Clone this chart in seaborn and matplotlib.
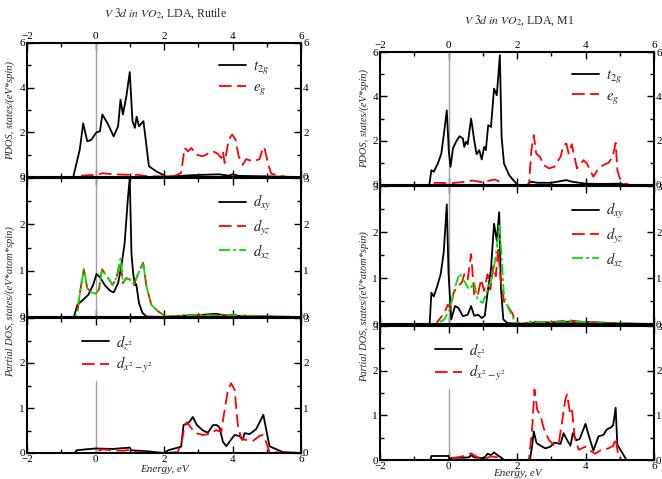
import matplotlib
matplotlib.use("Agg")
import matplotlib.pyplot as plt
from matplotlib.ticker import MultipleLocator
import seaborn as sns

# ==========================
# Data: Rutile (left column)
# ==========================

rut_t2g_e = [-2, -0.65, -0.46, -0.36, -0.24, -0.12, -0.02, 0.03, 0.13, 0.2, 0.37, 0.53, 0.66, 0.73, 0.8, 0.9, 1.0,
             1.08, 1.15, 1.2, 1.27, 1.4, 1.56, 1.78, 1.97, 2.05, 2.5, 2.8, 3.2, 3.6, 3.9, 4.0, 4.2, 4.6, 5.0, 5.5, 6]
rut_t2g = [0, 0, 1.22, 2.4, 1.6, 1.67, 1.9, 2.0, 2.05, 2.8, 2.35, 1.82, 2.27, 3.46, 2.8, 3.6, 4.7,
           2.5, 2.2, 2.7, 2.27, 2.5, 0.48, 0.25, 0.1, 0.02, 0.05, 0.08, 0.1, 0.12, 0.06, 0.12, 0.05, 0.04, 0.03, 0.01, 0]

rut_eg_e = [-2, -0.6, -0.4, 0.0, 0.1, 0.2, 0.5, 0.9, 1.2, 1.5, 1.9, 2.3, 2.5, 2.6, 2.7, 2.8, 2.94, 3.13, 3.28, 3.43,
            3.57, 3.67, 3.72, 3.77, 3.89, 3.99, 4.09, 4.18, 4.3, 4.4, 4.6, 4.79, 4.88, 4.93, 5.03, 5.13, 5.37, 5.6, 6]
rut_eg = [0, 0, 0.06, 0.1, 0.12, 0.17, 0.12, 0.1, 0.1, 0.04, 0.03, 0.05, 0.18, 1.3, 1.15, 1.3, 1.0, 0.93, 1.04, 1.15,
          1.04, 0.85, 1.15, 0.63, 1.67, 1.9, 1.67, 0.93, 0.55, 0.8, 0.7, 0.8, 1.25, 1.34, 0.63, 0.15, 0.06, 0.0, 0]

rut_dxy_e = [-2, -0.63, -0.53, -0.41, -0.21, -0.07, 0.03, 0.13, 0.27, 0.42, 0.53, 0.66, 0.76, 0.85, 0.95, 1.0,
             1.05, 1.1, 1.15, 1.19, 1.27, 1.37, 1.49, 2.0, 2.6, 3.0, 3.52, 3.8, 4.5, 5.0, 6]
rut_dxy = [0, 0, 0.26, 0.34, 0.48, 0.69, 0.93, 0.86, 0.69, 0.57, 0.53, 0.73, 1.12, 1.59, 2.6, 3.0,
           1.37, 0.94, 0.69, 0.71, 0.3, 0.09, 0.01, 0, 0.03, 0.04, 0.07, 0.03, 0.02, 0.01, 0]

rut_dyz_e = [-2, -0.6, -0.53, -0.44, -0.34, -0.24, -0.12, 0.0, 0.1, 0.19, 0.34, 0.5, 0.61, 0.73, 0.8, 0.9, 1.02,
             1.12, 1.21, 1.39, 1.49, 1.63, 1.83, 1.97, 2.1, 2.6, 3.0, 3.5, 4.0, 4.5, 5.0, 6]
rut_dyz = [0, 0, 0.12, 0.59, 1.03, 0.62, 0.53, 0.5, 0.59, 1.03, 0.87, 0.69, 0.84, 1.2, 0.73, 0.84, 0.8,
           0.69, 0.87, 1.17, 0.66, 0.26, 0.12, 0.05, 0.01, 0.03, 0.05, 0.03, 0.05, 0.02, 0.01, 0]
rut_dxz = [0, 0, 0.12, 0.6, 1.04, 0.62, 0.53, 0.5, 0.6, 1.02, 0.87, 0.7, 0.84, 1.26, 0.74, 0.84, 0.8,
           0.7, 0.87, 1.17, 0.66, 0.26, 0.12, 0.05, 0.01, 0.03, 0.04, 0.03, 0.04, 0.02, 0.01, 0]

rut_dz2_e = [-2, -0.6, -0.55, -0.3, 0.0, 0.5, 1.0, 1.05, 1.5, 2.0, 2.12, 2.5, 2.57, 2.7, 2.75, 2.84, 2.96, 3.14,
             3.28, 3.43, 3.54, 3.62, 3.72, 3.82, 3.91, 4.06, 4.2, 4.3, 4.35, 4.5, 4.69, 4.79, 4.9, 5.08, 5.47, 6]
rut_dz2 = [0, 0, 0.06, 0.08, 0.1, 0.09, 0.12, 0.06, 0.04, 0.0, 0.06, 0.14, 0.62, 0.66, 0.7, 0.8, 0.62, 0.5,
           0.45, 0.62, 0.62, 0.57, 0.25, 0.15, 0.25, 0.4, 0.38, 0.29, 0.44, 0.42, 0.53, 0.68, 0.85, 0.15, 0.02, 0]

rut_dx2y2_e = [-2, 0.0, 0.1, 0.2, 0.5, 0.8, 1.0, 1.1, 1.5, 2.0, 2.4, 2.53, 2.6, 2.67, 2.8, 2.94, 3.14, 3.33,
               3.52, 3.67, 3.77, 3.87, 3.96, 4.06, 4.16, 4.26, 4.4, 4.6, 4.79, 4.88, 4.98, 5.08, 6]
rut_dx2y2 = [0, 0, 0.05, 0.08, 0.06, 0.05, 0.07, 0.02, 0.01, 0, 0.02, 0.29, 0.62, 0.68, 0.55, 0.44, 0.4, 0.42,
             0.51, 0.47, 0.96, 1.41, 1.55, 1.41, 0.59, 0.32, 0.29, 0.27, 0.38, 0.4, 0.25, 0.02, 0]

# ==========================
# Data: M1 (right column)
# ==========================

m1_t2g_e = [-2, -0.56, -0.5, -0.43, -0.31, -0.21, -0.12, -0.05, 0.01, 0.06, 0.13, 0.22, 0.32, 0.42, 0.46, 0.51,
            0.56, 0.66, 0.75, 0.82, 0.9, 0.97, 1.04, 1.09, 1.16, 1.24, 1.33, 1.41, 1.5, 1.55, 1.62, 1.77, 1.89,
            1.98, 2.05, 2.3, 2.4, 2.6, 3.0, 3.44, 3.6, 4.0, 4.5, 5.0, 5.2, 6]
m1_t2g = [0, 0, 0.67, 0.6, 0.97, 1.42, 2.47, 3.37, 1.5, 0.82, 1.65, 1.95, 2.2, 2.1, 1.72, 1.95,
          1.84, 3.0, 2.02, 1.39, 1.57, 1.15, 1.72, 1.57, 2.7, 2.62, 4.35, 4.05, 5.85, 2.17, 0.97, 0.45, 0.22,
          0.07, 0, 0, 0.15, 0.1, 0.1, 0.22, 0.15, 0.06, 0.05, 0.06, 0, 0]

m1_eg_e = [-2, -0.55, -0.4, 0.1, 0.5, 0.7, 1.0, 1.33, 1.5, 1.6, 2.3, 2.35, 2.42, 2.49, 2.56, 2.67, 2.78, 2.93,
           3.09, 3.27, 3.36, 3.44, 3.51, 3.6, 3.75, 3.94, 4.04, 4.23, 4.38, 4.52, 4.67, 4.79, 4.88, 4.93, 5.0,
           5.15, 5.3, 6]
m1_eg = [0, 0, 0.1, 0.08, 0.15, 0.2, 0.12, 0.25, 0.15, 0, 0, 0.03, 1.57, 2.25, 1.42, 1.27, 0.9, 0.75,
         0.82, 1.27, 1.8, 1.87, 1.42, 1.84, 0.75, 1.12, 0.97, 0.37, 0.75, 0.9, 1.0, 1.27, 1.9, 0.67, 0.3,
         0.07, 0, 0]

m1_dxy_e = [-2, -0.55, -0.5, -0.43, -0.33, -0.23, -0.14, -0.05, 0.0, 0.08, 0.19, 0.29, 0.42, 0.56, 0.66, 0.75,
            0.87, 0.97, 1.06, 1.14, 1.24, 1.33, 1.41, 1.48, 1.53, 1.6, 1.72, 2.3, 2.6, 3.0, 3.5, 4.0, 4.5, 5.0, 6]
m1_dxy = [0, 0, 0.68, 0.6, 0.82, 1.08, 1.55, 2.6, 1.12, 0.1, 0.39, 0.35, 0.17, 0.2, 0.39, 0.18,
          0.2, 0.13, 0.18, 0.68, 1.19, 2.18, 1.81, 2.43, 0.79, 0.1, 0.02, 0.0, 0.04, 0.03, 0.05, 0.04, 0.03, 0.01, 0]

m1_dyz_e = [-2, -0.35, -0.31, -0.12, -0.02, 0.06, 0.15, 0.27, 0.39, 0.46, 0.56, 0.66, 0.75, 0.85, 0.95, 1.04,
            1.14, 1.22, 1.31, 1.38, 1.45, 1.53, 1.64, 1.72, 1.86, 1.96, 2.1, 2.5, 3.0, 3.5, 4.0, 4.5, 5.0, 6]
m1_dyz = [0, 0, 0.06, 0.24, 0.42, 0.35, 0.68, 0.82, 0.9, 1.08, 0.97, 1.52, 0.64, 0.6, 0.97, 0.72,
          1.08, 0.75, 1.26, 1.04, 1.63, 0.9, 0.42, 0.39, 0.24, 0.06, 0.0, 0.05, 0.04, 0.08, 0.04, 0.03, 0.01, 0]

m1_dxz_e = [-2, -0.35, -0.31, -0.12, 0.03, 0.17, 0.32, 0.46, 0.61, 0.75, 0.85, 1.0, 1.14, 1.29, 1.4, 1.48,
            1.55, 1.62, 1.77, 1.91, 2.0, 2.2, 2.44, 2.6, 3.0, 3.5, 4.0, 4.5, 5.0, 6]
m1_dxz = [0, 0, 0.02, 0.1, 0.31, 0.75, 1.1, 0.93, 0.75, 0.9, 0.53, 0.46, 0.75, 1.04, 1.59, 2.14,
          1.48, 0.6, 0.31, 0.1, 0.02, 0.0, 0.06, 0.04, 0.04, 0.06, 0.04, 0.02, 0.01, 0]

m1_dz2_e = [-2, -0.52, -0.5, -0.2, 0.0, 0.03, 0.1, 0.4, 0.6, 0.66, 0.75, 1.04, 1.14, 1.24, 1.33, 1.43, 1.53,
            1.62, 2.35, 2.38, 2.44, 2.49, 2.57, 2.69, 2.83, 2.98, 3.09, 3.27, 3.36, 3.46, 3.56, 3.63, 3.73,
            3.83, 4.0, 4.09, 4.23, 4.38, 4.52, 4.62, 4.76, 4.81, 4.88, 4.93, 5.05, 5.15, 5.2, 6]
m1_dz2 = [0, 0, 0.09, 0.09, 0.09, 0.02, 0.05, 0.05, 0.06, 0.11, 0.06, 0.04, 0.14, 0.11, 0.17, 0.11, 0.06,
          0, 0, 0.02, 0.3, 0.64, 0.38, 0.32, 0.26, 0.3, 0.39, 0.36, 0.6, 0.45, 0.32, 0.6, 0.44,
          0.47, 0.81, 0.56, 0.21, 0.53, 0.56, 0.68, 0.74, 0.79, 1.17, 0.34, 0.19, 0.06, 0, 0]

m1_dx2y2_e = [-2, 0.0, 0.08, 0.27, 0.46, 0.66, 0.85, 1.04, 1.24, 1.43, 1.62, 2.3, 2.35, 2.44, 2.51, 2.59, 2.69,
              2.78, 2.93, 3.07, 3.22, 3.31, 3.41, 3.46, 3.54, 3.6, 3.68, 3.8, 4.0, 4.14, 4.28, 4.47, 4.67,
              4.81, 4.88, 4.96, 5.05, 6]
m1_dx2y2 = [0, 0, 0.04, 0.06, 0.09, 0.15, 0.06, 0.02, 0.08, 0.06, 0, 0, 0.02, 0.68, 1.58, 1.13, 0.98,
            0.71, 0.45, 0.34, 0.38, 0.83, 1.35, 1.47, 1.09, 1.17, 0.53, 0.23, 0.3, 0.21, 0.14, 0.23, 0.26,
            0.32, 0.49, 0.08, 0, 0]

titles = [r"$\mathit{V\ 3d\ in\ VO_{2}}$, LDA, Rutile", r"$\mathit{V\ 3d\ in\ VO_{2}}$, LDA, M1"]

# ==========================
# Style
# ==========================

sns.set_style("ticks")
plt.rcParams['font.family'] = ['Liberation Serif', 'DejaVu Serif']
plt.rcParams['mathtext.fontset'] = 'stix'

LW = 1.3
SOLID = "-"
DASH = (0, (7, 3))
DASHDOT = (0, (6, 1.8, 1.6, 1.8))
ZERO_COLOR = "#b09a9a"

fig = plt.figure(figsize=(6.62, 4.79), dpi=100)

W = 479.0
FW = 662.0


def make_axes(x0, top, bottom):
    return fig.add_axes([x0 / FW, 1 - bottom / W, 274 / FW, (bottom - top) / W])


def style_axis(ax, ymax, ymajor, top_lab, bottom_lab):
    ax.set_xlim(-2, 6)
    ax.set_ylim(0, ymax)
    ax.xaxis.set_major_locator(MultipleLocator(2))
    ax.xaxis.set_minor_locator(MultipleLocator(1))
    ax.yaxis.set_major_locator(MultipleLocator(ymajor))
    ax.yaxis.set_minor_locator(MultipleLocator(ymajor / 2))
    ax.tick_params(which='both', direction='in', top=True, right=True, labelright=True,
                   labeltop=top_lab, labelbottom=bottom_lab, labelsize=8, width=1, pad=1.5,
                   colors='black')
    ax.tick_params(which='major', length=5)
    ax.tick_params(which='minor', length=3)
    for sp in ax.spines.values():
        sp.set_linewidth(1.5)
        sp.set_color('black')
    ax.set_xlabel("")
    ax.set_ylabel("")


def draw(ax, e, v, color, ls, label):
    sns.lineplot(x=e, y=v, ax=ax, color=color, linestyle=ls, linewidth=LW,
                 label=label, estimator=None, sort=False)


def legend(ax, x, y):
    ax.legend(frameon=False, loc='upper left', bbox_to_anchor=(x, y), fontsize=10.5,
              handlelength=1.85, handletextpad=0.5, labelspacing=0.3,
              borderaxespad=0, borderpad=0)


columns = [
    dict(x0=27, tops=[(43, 177), (178, 317), (318, 453)],
         t2g=(rut_t2g_e, rut_t2g), eg=(rut_eg_e, rut_eg),
         dxy=(rut_dxy_e, rut_dxy), dyz=(rut_dyz_e, rut_dyz), dxz=(rut_dyz_e, rut_dxz),
         dz2=(rut_dz2_e, rut_dz2), dx2y2=(rut_dx2y2_e, rut_dx2y2)),
    dict(x0=380, tops=[(52, 185), (186, 324), (326, 460)],
         t2g=(m1_t2g_e, m1_t2g), eg=(m1_eg_e, m1_eg),
         dxy=(m1_dxy_e, m1_dxy), dyz=(m1_dyz_e, m1_dyz), dxz=(m1_dxz_e, m1_dxz),
         dz2=(m1_dz2_e, m1_dz2), dx2y2=(m1_dx2y2_e, m1_dx2y2)),
]

for i, col in enumerate(columns):
    x0 = col['x0']
    ax1 = make_axes(x0, *col['tops'][0])
    ax2 = make_axes(x0, *col['tops'][1])
    ax3 = make_axes(x0, *col['tops'][2])

    # top panel: t2g / eg
    ax1.axvline(0, color=ZERO_COLOR, linewidth=1.0, zorder=1)
    draw(ax1, *col['t2g'], 'black', SOLID, r"$t_{2g}$")
    draw(ax1, *col['eg'], 'red', DASH, r"$e_{g}$")
    style_axis(ax1, 6, 2, True, False)
    legend(ax1, 0.70, 0.88)

    # middle panel: t2g orbitals
    ax2.axvline(0, color=ZERO_COLOR, linewidth=1.0, zorder=1)
    draw(ax2, *col['dxy'], 'black', SOLID, r"$d_{xy}$")
    draw(ax2, *col['dyz'], 'red', DASH, r"$d_{yz}$")
    draw(ax2, *col['dxz'], '#00e000', DASHDOT, r"$d_{xz}$")
    style_axis(ax2, 3, 1, False, False)
    legend(ax2, 0.70, 0.89)

    # bottom panel: eg orbitals
    ax3.axvline(0, ymin=0, ymax=1.6 / 3, color=ZERO_COLOR, linewidth=1.0, zorder=1)
    draw(ax3, *col['dz2'], 'black', SOLID, r"$d_{z^2}$")
    draw(ax3, *col['dx2y2'], 'red', DASH, r"$d_{x^2-y^2}$")
    style_axis(ax3, 3, 1, False, True)
    legend(ax3, 0.20, 0.89)

    # texts
    cx = (x0 + 137 + 2) / FW
    fig.text(cx, 1 - (14 + 7 * i) / W, titles[i], ha='center', va='center', fontsize=8.5)
    fig.text((x0 + 137) / FW, 1 - (470 + 4 * i) / W, "Energy, eV", ha='center', va='center',
             fontsize=8, style='italic')
    lx = (10 if i == 0 else 364) / FW
    fig.text(lx, 1 - (111 + 7 * i) / W, "PDOS, states/(eV*spin)", rotation=90,
             ha='center', va='center', fontsize=7.5, style='italic')
    fig.text(lx, 1 - (302 + 5 * i) / W, "Partial DOS, states/(eV*atom*spin)", rotation=90,
             ha='center', va='center', fontsize=7.5, style='italic')

fig.savefig("out.png", dpi=100)
plt.close(fig)
